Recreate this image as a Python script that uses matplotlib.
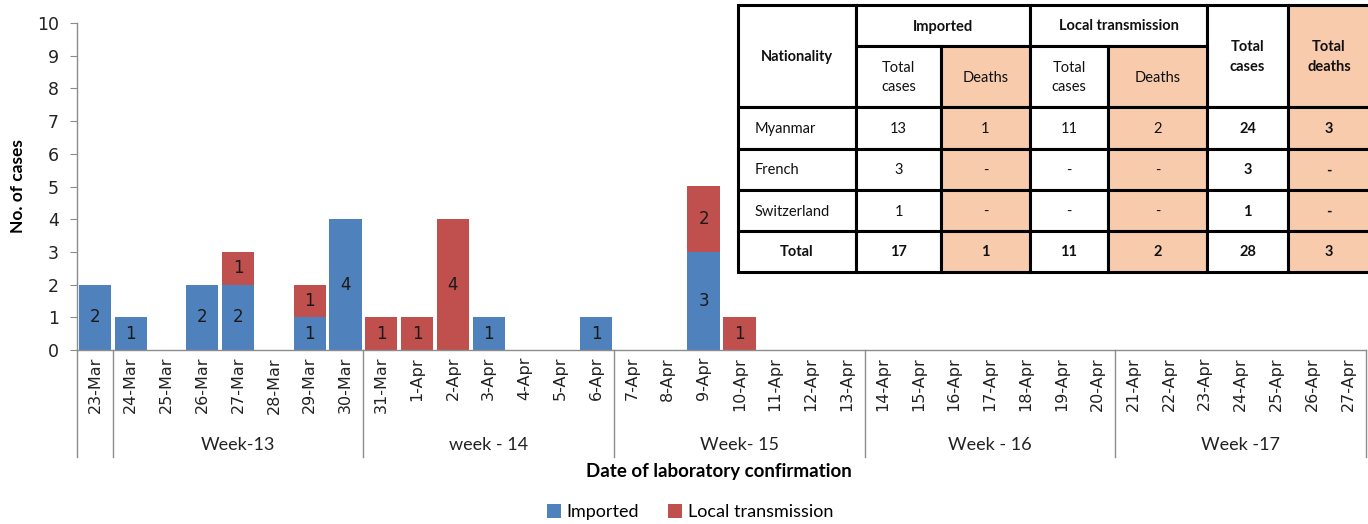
import matplotlib
matplotlib.use("Agg")
import matplotlib.pyplot as plt
from matplotlib.patches import Rectangle
import matplotlib.transforms as mtransforms

# ---------------- data ----------------
dates = ["23-Mar", "24-Mar", "25-Mar", "26-Mar", "27-Mar", "28-Mar", "29-Mar", "30-Mar",
         "31-Mar", "1-Apr", "2-Apr", "3-Apr", "4-Apr", "5-Apr", "6-Apr",
         "7-Apr", "8-Apr", "9-Apr", "10-Apr", "11-Apr", "12-Apr", "13-Apr",
         "14-Apr", "15-Apr", "16-Apr", "17-Apr", "18-Apr", "19-Apr", "20-Apr",
         "21-Apr", "22-Apr", "23-Apr", "24-Apr", "25-Apr", "26-Apr", "27-Apr"]
imported = [2, 1, 0, 2, 2, 0, 1, 4,
            0, 0, 0, 1, 0, 0, 1,
            0, 0, 3, 0, 0, 0, 0,
            0, 0, 0, 0, 0, 0, 0,
            0, 0, 0, 0, 0, 0, 0]
local = [0, 0, 0, 0, 1, 0, 1, 0,
         1, 1, 4, 0, 0, 0, 0,
         0, 0, 2, 1, 0, 0, 0,
         0, 0, 0, 0, 0, 0, 0,
         0, 0, 0, 0, 0, 0, 0]
week_labels = ["", "Week-13", "week - 14", "Week- 15", "Week - 16", "Week -17"]
week_sizes = [1, 7, 7, 7, 7, 7]

table_nationality = ["Myanmar", "French", "Switzerland", "Total"]
table_imp_cases = ["13", "3", "1", "17"]
table_imp_deaths = ["1", "-", "-", "1"]
table_loc_cases = ["11", "-", "-", "11"]
table_loc_deaths = ["2", "-", "-", "2"]
table_total_cases = ["24", "3", "1", "28"]
table_total_deaths = ["3", "-", "-", "3"]

BLUE = "#4F81BD"
RED = "#C0504D"
PEACH = "#F8CBAD"
GRID = "#8C8C8C"
CAL = ["Lato", "DejaVu Sans"]

W, H = 1368, 524
fig = plt.figure(figsize=(W / 100, H / 100), dpi=100)


def fx(px):
    return px / W


def fy(py):
    return 1 - py / H


ax_l, ax_r, ax_t, ax_b = 77, 1366, 23, 350
ax = fig.add_axes([fx(ax_l), fy(ax_b), fx(ax_r - ax_l), (ax_b - ax_t) / H])

x = list(range(len(dates)))
bw = 0.9
ax.bar(x, imported, width=bw, color=BLUE, label="Imported", zorder=2)
ax.bar(x, local, width=bw, bottom=imported, color=RED, label="Local transmission", zorder=2)

for i in x:
    if imported[i] > 0:
        ax.text(i, imported[i] / 2, str(imported[i]), ha="center", va="center",
                fontsize=12, color="#1a1a1a", family="DejaVu Sans", zorder=3)
    if local[i] > 0:
        ax.text(i, imported[i] + local[i] / 2, str(local[i]), ha="center", va="center",
                fontsize=12, color="#1a1a1a", family="DejaVu Sans", zorder=3)

ax.set_xlim(-0.5, len(dates) - 0.5)
ax.set_ylim(0, 10)
ax.set_yticks(range(0, 11))
ax.tick_params(axis="y", length=5, color=GRID, labelsize=12.5, pad=8, labelcolor="#222222")
ax.set_xticks(x)
ax.set_xticklabels(dates, rotation=90, fontsize=11.5, family="DejaVu Sans", color="#222222")
ax.tick_params(axis="x", length=0, pad=5)
for s in ["top", "right"]:
    ax.spines[s].set_visible(False)
for s in ["left", "bottom"]:
    ax.spines[s].set_color(GRID)
    ax.spines[s].set_linewidth(1)

ax.set_ylabel("No. of cases", fontsize=12.5, fontweight="bold", family=CAL, labelpad=8)

# week grouping
trans = mtransforms.blended_transform_factory(ax.transData, ax.transAxes)
axh = ax_b - ax_t
y_sep = -(457 - ax_b) / axh
y_week = -(445 - ax_b) / axh
start = -0.5
ax.plot([start, start], [0, y_sep], color=GRID, lw=1, transform=trans, clip_on=False)
for lab, n in zip(week_labels, week_sizes):
    end = start + n
    ax.plot([end, end], [0, y_sep], color=GRID, lw=1, transform=trans, clip_on=False)
    ax.text((start + end) / 2, y_week, lab, ha="center", va="center", fontsize=13,
            family=CAL, transform=trans, color="#222222")
    start = end

fig.text(fx(719), fy(471), "Date of laboratory confirmation", ha="center", va="center",
         fontsize=13.5, fontweight="bold", family=CAL)

leg = fig.legend(loc="center", bbox_to_anchor=(fx(690), fy(512)), ncol=2, frameon=False,
                 prop={"family": CAL, "size": 13}, handlelength=0.8, handleheight=0.8,
                 columnspacing=1.6, handletextpad=0.3)

# ---------------- table ----------------
tl, tt, tr, tb = 738, 5, 1370, 272
tax = fig.add_axes([fx(tl), fy(tb), fx(tr - tl), (tb - tt) / H])
tax.set_xlim(0, tr - tl)
tax.set_ylim(tb - tt, 0)
tax.axis("off")

cols = [0, 118, 203, 292, 370, 469, 550, 632]
rows = [0, 41, 102, 144, 185, 226, 267]


def cell(c0, c1, r0, r1, text, fill="white", bold=False, ha="center", fs=10.5):
    x0, x1 = cols[c0], cols[c1]
    y0, y1 = rows[r0], rows[r1]
    tax.add_patch(Rectangle((x0, y0), x1 - x0, y1 - y0, facecolor=fill,
                            edgecolor="black", lw=2.2, clip_on=False))
    if ha == "center":
        tx = (x0 + x1) / 2
    else:
        tx = x0 + 17
    tax.text(tx, (y0 + y1) / 2 + 1, text, ha=ha, va="center", fontsize=fs,
             fontweight="bold" if bold else "normal", family=CAL, color="#111111",
             linespacing=1.5)


cell(0, 1, 0, 2, "Nationality", bold=True)
cell(1, 3, 0, 1, "Imported", bold=True)
cell(3, 5, 0, 1, "Local transmission", bold=True)
cell(5, 6, 0, 2, "Total\ncases", bold=True)
cell(6, 7, 0, 2, "Total\ndeaths", fill=PEACH, bold=True)
cell(1, 2, 1, 2, "Total\ncases")
cell(2, 3, 1, 2, "Deaths", fill=PEACH)
cell(3, 4, 1, 2, "Total\ncases")
cell(4, 5, 1, 2, "Deaths", fill=PEACH)

for r in range(4):
    is_total = table_nationality[r] == "Total"
    rr = r + 2
    cell(0, 1, rr, rr + 1, table_nationality[r], bold=is_total,
         ha="center" if is_total else "left")
    cell(1, 2, rr, rr + 1, table_imp_cases[r], bold=is_total)
    cell(2, 3, rr, rr + 1, table_imp_deaths[r], fill=PEACH, bold=is_total)
    cell(3, 4, rr, rr + 1, table_loc_cases[r], bold=is_total)
    cell(4, 5, rr, rr + 1, table_loc_deaths[r], fill=PEACH, bold=is_total)
    cell(5, 6, rr, rr + 1, table_total_cases[r], bold=True)
    cell(6, 7, rr, rr + 1, table_total_deaths[r], fill=PEACH, bold=True)

fig.savefig("out.png", dpi=100)
